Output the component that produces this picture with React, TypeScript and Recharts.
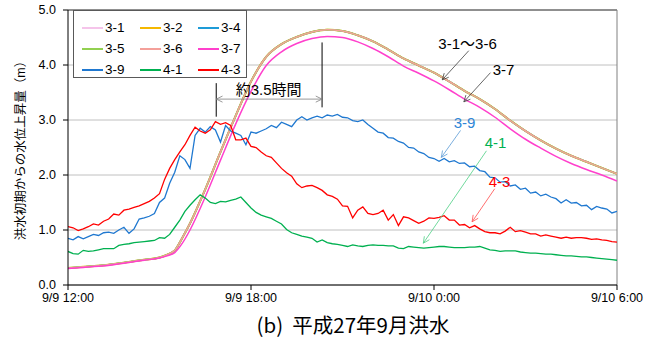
import React from 'react';
import { LineChart, Line, XAxis, YAxis, CartesianGrid, ReferenceLine, ReferenceDot } from 'recharts';

// ---- axes ----
const xTickHours = [0, 6, 12, 18];
const xTickLabels = ['9/9 12:00', '9/9 18:00', '9/10 0:00', '9/10 6:00'];
const yTicks = [0, 1, 2, 3, 4, 5];

// ---- smooth series (hours after 9/9 12:00) ----
const smoothHours = [0, 0.5, 1, 1.5, 2, 2.5, 3, 3.25, 3.5, 3.75, 4, 4.5, 5, 5.5, 6, 6.5, 7, 7.5, 8, 8.5, 9, 9.5, 10, 10.5, 11, 11.5, 12, 12.5, 13, 13.5, 14, 14.5, 15, 15.5, 16, 16.5, 17, 17.5, 18];
const st31to36 = [0.31, 0.33, 0.35, 0.38, 0.42, 0.46, 0.50, 0.55, 0.63, 0.86, 1.12, 1.74, 2.42, 3.08, 3.70, 4.15, 4.38, 4.51, 4.60, 4.64, 4.62, 4.54, 4.43, 4.28, 4.12, 3.99, 3.86, 3.70, 3.53, 3.38, 3.20, 2.99, 2.80, 2.63, 2.48, 2.35, 2.24, 2.13, 2.02];
const st37 = [0.30, 0.32, 0.34, 0.37, 0.41, 0.45, 0.49, 0.53, 0.59, 0.76, 1.00, 1.60, 2.27, 2.93, 3.52, 3.99, 4.24, 4.39, 4.48, 4.52, 4.50, 4.42, 4.30, 4.15, 3.98, 3.85, 3.71, 3.55, 3.38, 3.23, 3.05, 2.84, 2.65, 2.49, 2.34, 2.21, 2.10, 2.00, 1.89];

// ---- 10-minute series ----
const tenMinHours = Array.from({ length: 109 }, (_, k) => k / 6);
const st39 = [
  0.85, 0.82, 0.88, 0.84, 0.88, 0.92, 0.90, 0.95, 0.96, 0.94,
  1.00, 1.05, 0.94, 1.02, 1.20, 1.22, 1.25, 1.30, 1.50, 1.58,
  1.85, 2.05, 2.35, 2.28, 2.12, 2.72, 2.85, 2.78, 2.88, 2.82,
  2.60, 2.90, 2.80, 2.76, 2.72, 2.55, 2.78, 2.76, 2.80, 2.84,
  2.90, 2.86, 2.96, 2.92, 2.88, 3.00, 3.06, 3.00, 3.04, 3.07,
  3.04, 3.09, 3.07, 3.10, 3.05, 3.04, 2.99, 2.97, 3.00, 2.92,
  2.85, 2.78, 2.76, 2.68, 2.67, 2.61, 2.58, 2.50, 2.49, 2.42,
  2.39, 2.32, 2.30, 2.25, 2.30, 2.24, 2.26, 2.21, 2.22, 2.15,
  2.16, 2.08, 2.06, 1.96, 1.95, 1.87, 1.88, 1.80, 1.82, 1.74,
  1.76, 1.67, 1.69, 1.62, 1.65, 1.60, 1.57, 1.49, 1.55, 1.49,
  1.50, 1.44, 1.45, 1.37, 1.43, 1.40, 1.38, 1.31, 1.34,
];
const st41 = [
  0.61, 0.57, 0.56, 0.63, 0.61, 0.62, 0.64, 0.66, 0.66, 0.66,
  0.72, 0.74, 0.75, 0.77, 0.78, 0.79, 0.80, 0.81, 0.86, 0.85,
  0.92, 1.05, 1.18, 1.34, 1.45, 1.55, 1.64, 1.58, 1.50, 1.48,
  1.52, 1.51, 1.54, 1.56, 1.60, 1.50, 1.40, 1.32, 1.27, 1.24,
  1.21, 1.16, 1.11, 1.01, 0.95, 0.92, 0.89, 0.87, 0.85, 0.78,
  0.82, 0.77, 0.75, 0.74, 0.72, 0.70, 0.73, 0.71, 0.70, 0.72,
  0.73, 0.72, 0.72, 0.71, 0.71, 0.67, 0.66, 0.70, 0.69, 0.68,
  0.67, 0.68, 0.69, 0.70, 0.70, 0.69, 0.68, 0.68, 0.68, 0.69,
  0.69, 0.70, 0.67, 0.64, 0.63, 0.61, 0.62, 0.62, 0.62, 0.60,
  0.59, 0.58, 0.58, 0.57, 0.56, 0.56, 0.55, 0.54, 0.53, 0.53,
  0.52, 0.51, 0.51, 0.50, 0.49, 0.48, 0.47, 0.46, 0.45,
];
const st43 = [
  1.06, 1.04, 0.99, 1.02, 1.06, 1.11, 1.09, 1.16, 1.20, 1.29,
  1.27, 1.36, 1.38, 1.41, 1.44, 1.48, 1.52, 1.58, 1.66, 1.92,
  2.12, 2.28, 2.42, 2.55, 2.72, 2.87, 2.80, 2.76, 2.82, 2.97,
  2.92, 2.95, 2.90, 2.64, 2.64, 2.67, 2.52, 2.50, 2.42, 2.35,
  2.32, 2.22, 2.12, 2.04, 1.98, 1.84, 1.77, 1.80, 1.81, 1.77,
  1.72, 1.64, 1.61, 1.56, 1.44, 1.43, 1.22, 1.36, 1.42, 1.30,
  1.28, 1.30, 1.36, 1.18, 1.28, 1.08, 1.24, 1.22, 1.17, 1.12,
  1.16, 1.22, 1.21, 1.23, 1.26, 1.18, 1.18, 1.09, 1.10, 1.04,
  1.08, 1.02, 0.97, 0.95, 0.95, 0.93, 0.98, 1.05, 0.97, 0.99,
  0.96, 0.93, 0.93, 0.89, 0.91, 0.89, 0.87, 0.85, 0.87, 0.85,
  0.86, 0.86, 0.85, 0.83, 0.84, 0.82, 0.81, 0.79, 0.78,
];

// ---- annotations (data coordinates) ----
const leadTimeMarks = [
  { t: 4.86, v1: 3.06, v2: 3.67 },
  { t: 8.33, v1: 3.23, v2: 4.41 },
];
const leadTimeArrow = { t1: 4.86, t2: 8.33, v: 3.38 };
const leadTimeLabel = { t: 6.58, v: 3.55, text: '約3.5時間' };
const callouts = [
  { text: '3-1～3-6', color: '#000000', arrow: '#404040', tt: 13.1, tv: 4.40, t1: 13.14, v1: 4.26, t2: 12.27, v2: 3.73 },
  { text: '3-7', color: '#000000', arrow: '#404040', tt: 14.28, tv: 3.91, t1: 13.85, v1: 3.86, t2: 12.98, v2: 3.33 },
  { text: '3-9', color: '#2e86d6', arrow: '#5b9bd5', tt: 13.0, tv: 2.96, t1: 12.87, v1: 2.81, t2: 12.24, v2: 2.32 },
  { text: '4-1', color: '#00b050', arrow: '#4ccf84', tt: 14.02, tv: 2.60, t1: 13.72, v1: 2.44, t2: 11.65, v2: 0.76 },
  { text: '4-3', color: '#ff0000', arrow: '#ff4a4a', tt: 14.15, tv: 1.89, t1: 13.99, v1: 1.75, t2: 13.25, v2: 1.15 },
];

const toRows = (hours: number[], vals: number[]) => hours.map((t, i) => ({ t, v: vals[i] }));

const series = [
  { name: '3-1', color: '#f5c4ea', hours: smoothHours, vals: st31to36, w: 1.5, curve: 'monotone' },
  { name: '3-2', color: '#f5b800', hours: smoothHours, vals: st31to36, w: 2.0, curve: 'monotone' },
  { name: '3-4', color: '#1e9bd7', hours: smoothHours, vals: st31to36, w: 1.5, curve: 'monotone' },
  { name: '3-5', color: '#92d050', hours: smoothHours, vals: st31to36, w: 1.9, curve: 'monotone' },
  { name: '3-6', color: '#f4a09a', hours: smoothHours, vals: st31to36, w: 1.5, curve: 'monotone' },
  { name: '3-7', color: '#ff40cc', hours: smoothHours, vals: st37, w: 1.5, curve: 'monotone' },
  { name: '3-9', color: '#1f78d0', hours: tenMinHours, vals: st39, w: 1.3, curve: 'linear' },
  { name: '4-1', color: '#00b050', hours: tenMinHours, vals: st41, w: 1.3, curve: 'linear' },
  { name: '4-3', color: '#ff0000', hours: tenMinHours, vals: st43, w: 1.3, curve: 'linear' },
];

const FONT = "'Liberation Sans', 'Noto Sans CJK JP', sans-serif";

const arrowShape = (color: string, width: number, heads: 'none' | 'end' | 'both') => (p: any) => {
  const { x1, y1, x2, y2 } = p;
  const ang = Math.atan2(y2 - y1, x2 - x1);
  const L = 7;
  const a = 0.45;
  const head = (x: number, y: number, dir: number, key: string) => {
    const ax = x - L * Math.cos(dir - a);
    const ay = y - L * Math.sin(dir - a);
    const bx = x - L * Math.cos(dir + a);
    const by = y - L * Math.sin(dir + a);
    return <polyline key={key} points={`${ax},${ay} ${x},${y} ${bx},${by}`} fill="none" stroke={color} strokeWidth={width} />;
  };
  return (
    <g>
      <line x1={x1} y1={y1} x2={x2} y2={y2} stroke={color} strokeWidth={width} />
      {heads !== 'none' && head(x2, y2, ang, 'e')}
      {heads === 'both' && head(x1, y1, ang + Math.PI, 's')}
    </g>
  );
};

const textShape = (text: string, color: string, size: number) => (p: any) => (
  <text x={p.cx} y={p.cy} textAnchor="middle" dominantBaseline="central" fill={color} fontSize={size} fontFamily={FONT}>
    {text}
  </text>
);

const legendOrder = ['3-1', '3-2', '3-4', '3-5', '3-6', '3-7', '3-9', '4-1', '4-3'];

export default function App() {
  return (
    <div style={{ position: 'absolute', left: 0, top: 0, width: 654, height: 343, background: '#fff', fontFamily: FONT }}>
      <LineChart width={654} height={343} margin={{ top: 10, right: 37, bottom: 28, left: 0 }}>
        <CartesianGrid vertical={false} stroke="#c0c0c0" strokeWidth={1} />
        <XAxis
          dataKey="t"
          type="number"
          domain={[0, 18]}
          ticks={xTickHours}
          tickFormatter={(v: number) => xTickLabels[xTickHours.indexOf(v)] ?? ''}
          height={30}
          tickSize={5}
          tickMargin={3}
          axisLine={{ stroke: '#000' }}
          tickLine={{ stroke: '#000' }}
          tick={{ fill: '#000', fontSize: 12.5, fontFamily: FONT }}
          allowDataOverflow
        />
        <YAxis
          type="number"
          domain={[0, 5]}
          ticks={yTicks}
          tickFormatter={(v: number) => v.toFixed(1)}
          width={68}
          tickSize={5}
          tickMargin={7}
          axisLine={{ stroke: '#000' }}
          tickLine={{ stroke: '#000' }}
          tick={{ fill: '#000', fontSize: 12.5, fontFamily: FONT }}
          label={{
            content: (props: any) => {
              const vb = props.viewBox || { y: 10, height: 275 };
              const cy = vb.y + vb.height / 2;
              return (
                <text x={21} y={cy} transform={`rotate(-90, 21, ${cy})`} textAnchor="middle" dominantBaseline="central" fontSize={12.5} fill="#000" fontFamily={FONT}>
                  洪水初期からの水位上昇量（m）
                </text>
              );
            },
          }}
        />
        <ReferenceLine y={5} stroke="#404040" strokeWidth={1} />
        <ReferenceLine x={18} stroke="#808080" strokeWidth={1} />
        {series.map((s) => (
          <Line
            key={s.name}
            name={s.name}
            data={toRows(s.hours, s.vals)}
            dataKey="v"
            type={s.curve as any}
            stroke={s.color}
            strokeWidth={s.w}
            dot={false}
            activeDot={false}
            isAnimationActive={false}
          />
        ))}
        {leadTimeMarks.map((m, i) => (
          <ReferenceLine
            key={'m' + i}
            segment={[{ x: m.t, y: m.v1 }, { x: m.t, y: m.v2 }]}
            shape={arrowShape('#000', 1, 'none')}
          />
        ))}
        <ReferenceLine
          segment={[{ x: leadTimeArrow.t1, y: leadTimeArrow.v }, { x: leadTimeArrow.t2, y: leadTimeArrow.v }]}
          shape={arrowShape('#808080', 0.8, 'both')}
        />
        <ReferenceDot x={leadTimeLabel.t} y={leadTimeLabel.v} r={0} shape={textShape(leadTimeLabel.text, '#000', 15)} />
        {callouts.map((c) => (
          <ReferenceLine
            key={'a' + c.text}
            segment={[{ x: c.t1, y: c.v1 }, { x: c.t2, y: c.v2 }]}
            shape={arrowShape(c.arrow, 0.8, 'end')}
          />
        ))}
        {callouts.map((c) => (
          <ReferenceDot key={'t' + c.text} x={c.tt} y={c.tv} r={0} shape={textShape(c.text, c.color, 15)} />
        ))}
      </LineChart>

      <div
        style={{
          position: 'absolute', left: 73, top: 10, width: 174, height: 68, boxSizing: 'border-box',
          border: '1px solid #595959', background: '#fff',
        }}
      >
        {legendOrder.map((name, i) => {
          const s = series.find((x) => x.name === name)!;
          const col = i % 3;
          const row = Math.floor(i / 3);
          return (
            <div key={name}>
              <div style={{ position: 'absolute', left: 8 + col * 58, top: 16 + row * 21, width: 21, height: 2, background: s.color }} />
              <div style={{ position: 'absolute', left: 31 + col * 58, top: 8 + row * 21, fontSize: 13.5, lineHeight: '18px', color: '#000' }}>{name}</div>
            </div>
          );
        })}
      </div>

      <div style={{ position: 'absolute', left: 228, top: 312, width: 250, textAlign: 'center', fontSize: 20.5, lineHeight: '24px', color: '#000', fontFamily: "'Noto Sans CJK JP', sans-serif" }}>
        (b)&nbsp;&nbsp;平成27年9月洪水
      </div>
    </div>
  );
}
